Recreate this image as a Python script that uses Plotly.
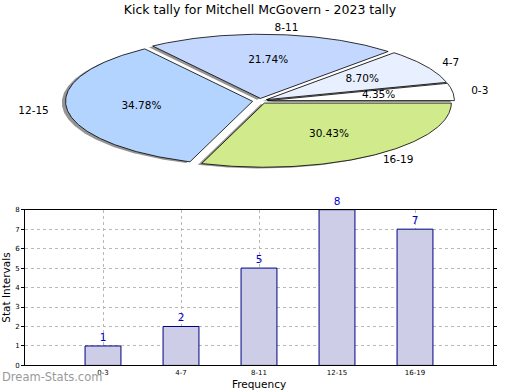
import math
import plotly.graph_objects as go

# ---- data ----
categories = ["0-3", "4-7", "8-11", "12-15", "16-19"]
counts = [1, 2, 5, 8, 7]
pie_colors = ["#ffffff", "#e8f0ff", "#c4d8ff", "#b3d4ff", "#d0ea8c"]
y_ticks = [0, 1, 2, 3, 4, 5, 6, 7, 8]

title_text = "Kick tally for Mitchell McGovern - 2023 tally"
FONT = "DejaVu Sans"

# ---- pie geometry (pixel-like coordinates on a hidden axis) ----
CX, CY, RX, RY = 260.0, 99.0, 187.0, 65.5
EXPLODE = 0.04
LABEL_D = 1.1
PCT_D = 0.6

total = sum(counts)
fig = go.Figure()

slices = []
start = 0.0
for cat, v, col in zip(categories, counts, pie_colors):
    span = 360.0 * v / total
    a1, a2 = start, start + span
    mid = math.radians((a1 + a2) / 2)
    ox = EXPLODE * RX * math.cos(mid)
    oy = -EXPLODE * RY * math.sin(mid)
    n = max(8, int(span * 1.5))
    xs = [CX + ox]
    ys = [CY + oy]
    for i in range(n + 1):
        t = math.radians(a1 + (a2 - a1) * i / n)
        xs.append(CX + ox + RX * math.cos(t))
        ys.append(CY + oy - RY * math.sin(t))
    xs.append(CX + ox)
    ys.append(CY + oy)
    slices.append((cat, v, col, xs, ys, mid, ox, oy))
    start = a2

# shadows
SHX, SHY = -0.02 * RX, 0.02 * RY
for cat, v, col, xs, ys, mid, ox, oy in slices:
    fig.add_trace(go.Scatter(
        x=[x + SHX for x in xs], y=[y + SHY for y in ys], mode="lines",
        fill="toself", fillcolor="rgba(60,60,60,0.55)",
        line=dict(width=0), hoverinfo="skip", showlegend=False,
        xaxis="x", yaxis="y"))

# slices
for cat, v, col, xs, ys, mid, ox, oy in slices:
    fig.add_trace(go.Scatter(
        x=xs, y=ys, mode="lines", fill="toself", fillcolor=col,
        line=dict(color="black", width=0.8), name=cat,
        hoverinfo="name", showlegend=False, xaxis="x", yaxis="y"))

# labels
for cat, v, col, xs, ys, mid, ox, oy in slices:
    lx = CX + ox + LABEL_D * RX * math.cos(mid)
    ly = CY + oy - LABEL_D * RY * math.sin(mid)
    pos = "middle right" if math.cos(mid) >= 0 else "middle left"
    fig.add_trace(go.Scatter(
        x=[lx], y=[ly], mode="text", text=[cat], textposition=pos,
        textfont=dict(family=FONT, size=10.5, color="black"),
        hoverinfo="skip", showlegend=False, xaxis="x", yaxis="y"))
    px = CX + ox + PCT_D * RX * math.cos(mid)
    py = CY + oy - PCT_D * RY * math.sin(mid)
    fig.add_trace(go.Scatter(
        x=[px], y=[py], mode="text", text=[f"{v / total * 100:.2f}%"],
        textposition="middle center",
        textfont=dict(family=FONT, size=10.5, color="black"),
        hoverinfo="skip", showlegend=False, xaxis="x", yaxis="y"))

# ---- bar chart ----
fig.add_trace(go.Bar(
    x=categories, y=counts, width=0.46,
    marker=dict(color="#cdcde8", line=dict(color="#000080", width=1)),
    text=[str(c) for c in counts], textposition="outside",
    textfont=dict(family=FONT, size=10.5, color="#0000cc"),
    cliponaxis=False, showlegend=False, xaxis="x2", yaxis="y2"))

W, H = 520, 390
fig.update_layout(
    width=W, height=H,
    margin=dict(l=0, r=0, t=0, b=0),
    paper_bgcolor="white", plot_bgcolor="white",
    font=dict(family=FONT, color="black"),
    title=dict(text=title_text, x=0.5, xanchor="center",
               y=1 - 10 / H, yanchor="middle",
               font=dict(family=FONT, size=12.5, color="black")),
    xaxis=dict(domain=[0, 1], range=[0, W], visible=False, fixedrange=True),
    yaxis=dict(domain=[1 - 195 / H, 1], range=[195, 0], visible=False,
               fixedrange=True),
    xaxis2=dict(domain=[25 / W, 493 / W], anchor="y2", type="category",
                range=[-1, 5], showline=True, linecolor="black", linewidth=1,
                mirror=True, showgrid=True, gridcolor="#b8b8b8",
                griddash="dot", gridwidth=1, ticks="",
                tickfont=dict(family=FONT, size=7, color="black"),
                title=dict(text="Frequency", standoff=4,
                           font=dict(family=FONT, size=10.5))),
    yaxis2=dict(domain=[(H - 369) / H, (H - 210) / H], anchor="x2",
                range=[0, 8], tickvals=y_ticks, showline=True,
                linecolor="black", linewidth=1, mirror="ticks",
                showgrid=True, gridcolor="#b8b8b8", griddash="dot",
                ticks="outside", ticklen=3, tickcolor="black",
                zeroline=False,
                tickfont=dict(family=FONT, size=7, color="black"),
                title=dict(text="Stat Intervals", standoff=6,
                           font=dict(family=FONT, size=10.5))),
    annotations=[dict(text="Dream-Stats.com", xref="paper", yref="paper",
                      x=0, y=1 - 381 / H, xanchor="left", yanchor="middle",
                      showarrow=False,
                      font=dict(family=FONT, size=11.5, color="#9a9a9a"))],
)

fig.write_html("out.html",
               config={"displayModeBar": False},
               post_script="document.body.style.margin='0';"
                           "document.body.style.overflow='hidden';")
